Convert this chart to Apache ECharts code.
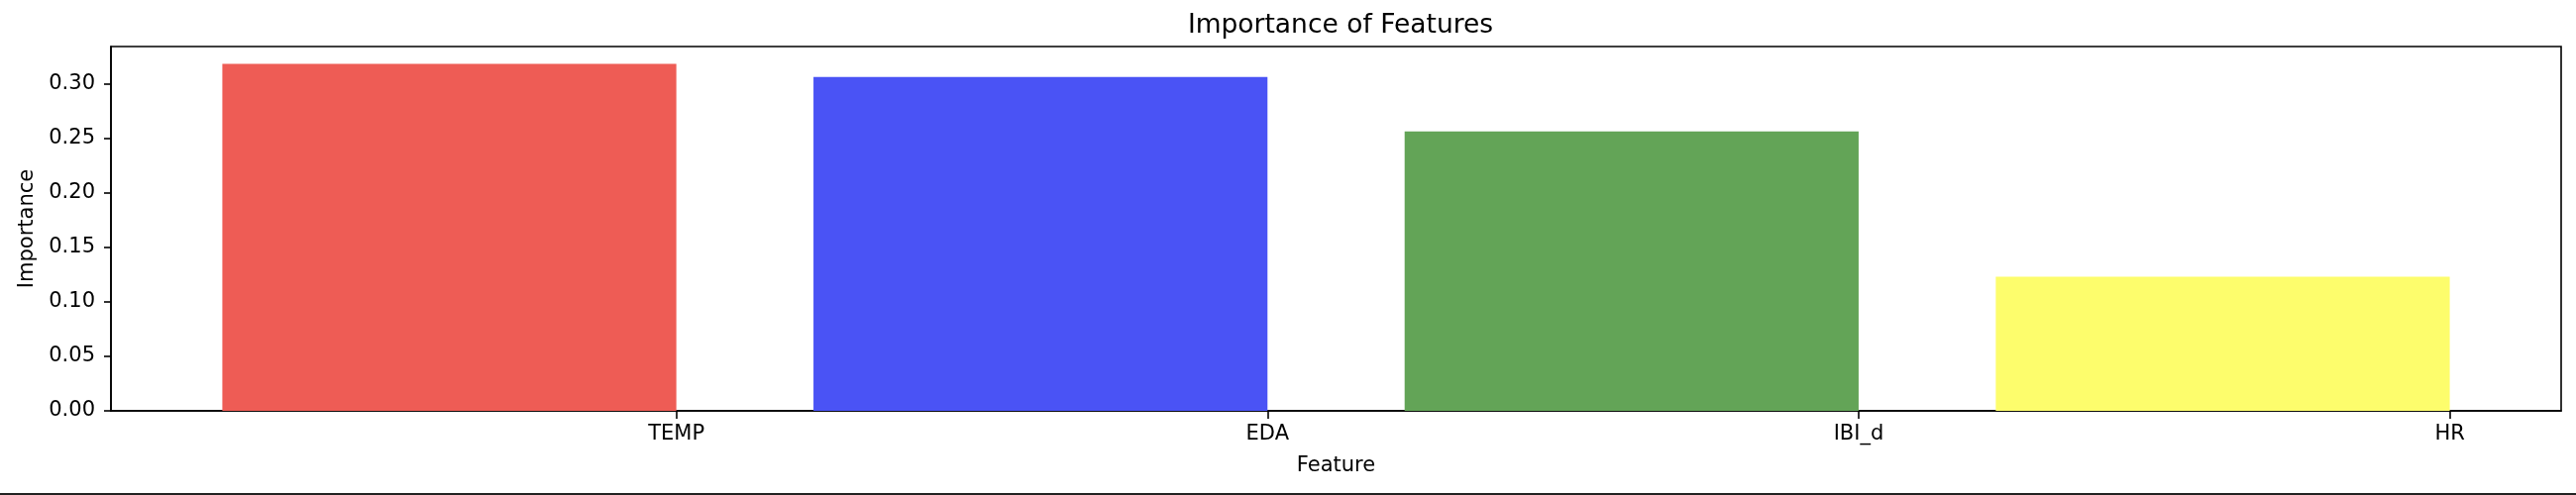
<!DOCTYPE html>
<html>
<head>
<meta charset="utf-8">
<script src="https://cdn.jsdelivr.net/npm/echarts@6/dist/echarts.min.js"></script>
<style>
  html, body { margin: 0; padding: 0; background: #fff; }
  #chart { width: 2600px; height: 500px; }
</style>
</head>
<body>
<div id="chart"></div>
<script>
// ---- data ----
const categories = ['TEMP', 'EDA', 'IBI_d', 'HR'];
const importance = [0.318, 0.306, 0.256, 0.123];
const yTicks = [0, 0.05, 0.10, 0.15, 0.20, 0.25, 0.30];
const barColors = ['#EE5C55', '#4A53F5', '#63A457', '#FDFD6C'];

// ---- style constants ----
const BAR_W = 0.768;               // bar width in axis units (bars end at tick)
const X_MARGIN = (categories.length - 1 + BAR_W) * 0.05;
const Y_MAX = Math.max(...importance) * 1.05;
const FONT = 'DejaVu Sans';

const chart = echarts.init(document.getElementById('chart'), null, { renderer: 'canvas' });

const option = {
  backgroundColor: '#fff',
  animation: false,
  title: {
    text: 'Importance of Features',
    left: 1348,
    textAlign: 'center',
    top: 8,
    textStyle: { fontFamily: FONT, fontSize: 26.5, fontWeight: 'normal', color: '#000' }
  },
  grid: {
    left: 112, right: 15, top: 47, bottom: 85,
    show: true, borderColor: '#000', borderWidth: 1.6, backgroundColor: 'transparent'
  },
  xAxis: {
    type: 'value',
    min: -BAR_W - X_MARGIN,
    max: categories.length - 1 + X_MARGIN,
    name: 'Feature',
    nameLocation: 'middle',
    nameGap: 45,
    nameTextStyle: { fontFamily: FONT, fontSize: 21, color: '#000' },
    axisLine: { show: true, onZero: false, lineStyle: { color: '#000', width: 1.6 } },
    axisTick: { show: true, length: 8, lineStyle: { color: '#000', width: 1.6 },
      customValues: categories.map((c, i) => i) },
    axisLabel: {
      fontFamily: FONT, fontSize: 21, color: '#000', margin: 13,
      customValues: categories.map((c, i) => i),
      formatter: v => categories[Math.round(v)]
    },
    splitLine: { show: false }
  },
  yAxis: {
    type: 'value',
    min: 0,
    max: Y_MAX,
    name: 'Importance',
    nameLocation: 'middle',
    nameGap: 74,
    nameTextStyle: { fontFamily: FONT, fontSize: 21, color: '#000' },
    axisLine: { show: true, onZero: false, lineStyle: { color: '#000', width: 1.6 } },
    axisTick: { show: true, length: 7, lineStyle: { color: '#000', width: 1.6 },
      customValues: yTicks },
    axisLabel: {
      fontFamily: FONT, fontSize: 21, color: '#000', margin: 16,
      customValues: yTicks,
      formatter: v => v.toFixed(2)
    },
    splitLine: { show: false }
  },
  series: [{
    type: 'custom',
    data: importance.map((v, i) => [i, v]),
    renderItem: (params, api) => {
      const x = api.value(0), v = api.value(1);
      const p0 = api.coord([x - BAR_W, v]);
      const p1 = api.coord([x, 0]);
      return {
        type: 'rect',
        shape: { x: p0[0], y: p0[1], width: p1[0] - p0[0], height: p1[1] - p0[1] },
        style: { fill: barColors[params.dataIndex] }
      };
    },
    z: 1
  }],
  graphic: [{
    type: 'rect',
    shape: { x: 0, y: 498, width: 2600, height: 2 },
    style: { fill: '#222' },
    silent: true
  }]
};

chart.setOption(option);
</script>
</body>
</html>
